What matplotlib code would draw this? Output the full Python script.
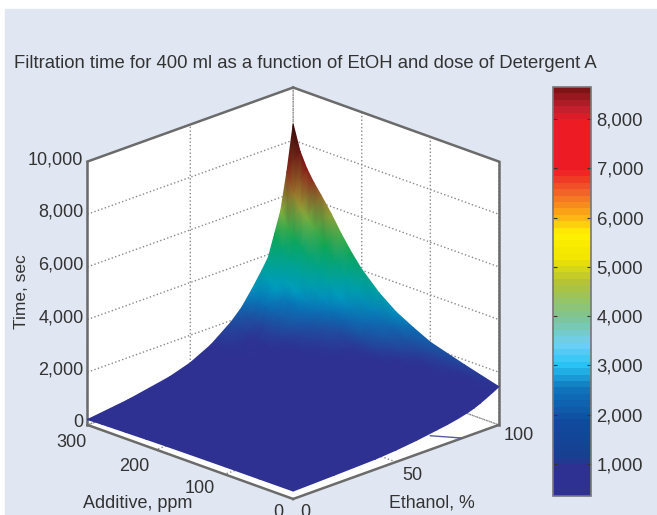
import matplotlib
matplotlib.use("Agg")
import matplotlib.pyplot as plt
import numpy as np
from matplotlib.cm import ScalarMappable
from matplotlib.colors import LinearSegmentedColormap, Normalize
from matplotlib.patches import Rectangle
from mpl_toolkits.mplot3d import proj3d

plt.rcParams['font.family'] = ['Liberation Sans', 'DejaVu Sans']

W, H = 657, 515

ethanol = [0, 20, 40, 50, 60, 70, 75, 80, 85, 88, 91, 94, 97, 100]
additive = [0, 50, 100, 125, 150, 175, 200, 215, 230, 245, 260, 270, 280, 290, 300]
# rows follow additive, columns follow ethanol (seconds)
time_sec = [
    [300, 340, 390, 450, 540, 660, 720, 800, 900, 980, 1080, 1200, 1320, 1450],
    [295, 343, 406, 475, 581, 706, 783, 877, 1002, 1098, 1233, 1396, 1580, 1808],
    [290, 346, 423, 503, 625, 778, 873, 994, 1146, 1260, 1433, 1634, 1888, 2201],
    [285, 349, 437, 525, 662, 837, 948, 1090, 1265, 1393, 1598, 1828, 2140, 2523],
    [280, 352, 452, 550, 702, 902, 1030, 1196, 1396, 1540, 1780, 2044, 2420, 2880],
    [273, 356, 474, 585, 759, 994, 1146, 1345, 1580, 1747, 2036, 2346, 2812, 3381],
    [264, 362, 502, 630, 832, 1112, 1294, 1537, 1817, 2012, 2364, 2735, 3316, 4024],
    [257, 366, 523, 665, 888, 1203, 1410, 1686, 2001, 2219, 2620, 3038, 3708, 4525],
    [249, 371, 548, 705, 953, 1308, 1542, 1856, 2211, 2455, 2912, 3383, 4156, 5097],
    [240, 376, 576, 750, 1026, 1426, 1690, 2048, 2448, 2720, 3240, 3772, 4660, 5740],
    [232, 381, 601, 790, 1091, 1531, 1822, 2218, 2658, 2956, 3532, 4118, 5108, 6312],
    [227, 384, 616, 815, 1131, 1596, 1905, 2325, 2790, 3104, 3715, 4334, 5388, 6670],
    [221, 387, 635, 845, 1180, 1675, 2004, 2453, 2948, 3281, 3934, 4593, 5724, 7099],
    [213, 392, 660, 885, 1245, 1780, 2136, 2623, 3158, 3517, 4226, 4938, 6172, 7671],
    [200, 400, 700, 950, 1350, 1950, 2350, 2900, 3500, 3900, 4700, 5500, 6900, 8600],
]
trace_ethanol = [76, 82]
trace_additive = [28, 1]

z_ticks = [0, 2000, 4000, 6000, 8000, 10000]
ethanol_ticks = [0, 50, 100]
additive_ticks = [0, 100, 200, 300]
bar_ticks = [1000, 2000, 3000, 4000, 5000, 6000, 7000, 8000]
vmin, vmax = 350, 8650

BG = '#e0e7f2'
TXT = '#333333'
FRAME = '#6b6b6b'

# the surface reads darker than its colour bar, so each has its own map
surf_stops = [(350, '#2e3192'), (1500, '#2e3192'), (2000, '#1f4fa0'), (2500, '#0a6fb5'),
              (3000, '#009cc0'), (3800, '#00a38c'), (4700, '#10a650'), (5500, '#8db03c'),
              (6000, '#a08a30'), (6600, '#8b3a20'), (7200, '#8c1a1a'), (8000, '#5a1012'),
              (8650, '#300808')]
bar_stops = [(350, '#2e3192'), (900, '#2e3192'), (1100, '#17408f'), (1800, '#0f4a9e'),
             (2500, '#0f75bc'), (3000, '#29c5f6'), (3400, '#6dcff6'), (4000, '#7fc48f'),
             (4700, '#b5c334'), (5200, '#f2e500'), (5700, '#fff200'), (6000, '#fdb813'),
             (6600, '#f15a29'), (7000, '#ed1c24'), (8000, '#ed1c24'), (8300, '#be1e2d'),
             (8650, '#7f1416')]


def make_cmap(stops):
    return LinearSegmentedColormap.from_list(
        'm', [((v - vmin) / (vmax - vmin), c) for v, c in stops], N=64)


fig = plt.figure(figsize=(W / 100, H / 100), dpi=100, facecolor='white')
fig.add_artist(Rectangle((5 / W, 0), 1, 506 / H, transform=fig.transFigure, color=BG, zorder=-5))

side = 560
rect = [(285.6 - side / 2) / W, (515 - 300.8 - side / 2) / H, side / W, side / H]
ax = fig.add_axes(rect, projection='3d', computed_zorder=False)
ax.patch.set_alpha(0)
ax.set_proj_type('ortho')
ax.view_init(elev=21.1, azim=-135)
ax.set_box_aspect((1, 1, 0.97), zoom=0.865)

ax.set_xlim(0, 100)
ax.set_ylim(0, 300)
ax.set_zlim(0, 10000)
ax.set_xticks(ethanol_ticks)
ax.set_yticks(additive_ticks)
ax.set_zticks(z_ticks)
ax.set_xticklabels([])
ax.set_yticklabels([])
ax.set_zticklabels([])

for axis in (ax.xaxis, ax.yaxis, ax.zaxis):
    axis.set_pane_color('white')
    axis.pane.set_edgecolor('none')
    axis.line.set_color('none')
    axis._axinfo['grid'].update(color='#8a8a8a', linewidth=1.0, linestyle=':')
    axis._axinfo['tick'].update(inward_factor=0, outward_factor=0)

ax.plot(trace_ethanol, trace_additive, [0, 0], color='#5a5aa0', lw=1, zorder=2)

# box edges
top = 10000
for xs, ys, zs in [([0, 100], [300, 300], [top, top]), ([100, 100], [0, 300], [top, top]),
                   ([0, 0], [300, 300], [0, top]), ([100, 100], [0, 0], [0, top]),
                   ([0, 100], [0, 0], [0, 0]), ([0, 0], [0, 300], [0, 0])]:
    ax.plot(xs, ys, zs, color=FRAME, lw=1.8, zorder=1)

# mplot3d only has flat facets, so the smooth surface goes on a 2D axes on top
M = ax.get_proj()


def project(x, y, z):
    x = np.asarray(x, float)
    px, py, _ = proj3d.proj_transform(x.ravel(), np.ravel(y).astype(float), np.ravel(z).astype(float), M)
    return np.reshape(px, x.shape), np.reshape(py, x.shape)


over = fig.add_axes(rect, facecolor='none')
over.axis('off')
E, A = np.meshgrid(ethanol, additive)
Z = np.array(time_sec, dtype=float)
norm = Normalize(vmin, vmax)
px, py = project(E, A, Z)
over.pcolormesh(px, py, Z, shading='gouraud', cmap=make_cmap(surf_stops), norm=norm)
over.set_xlim(ax.viewLim.intervalx)
over.set_ylim(ax.viewLim.intervaly)


def tick_text(x, y, z, s, dx, dy, ha='center'):
    qx, qy = project(x, y, z)
    over.annotate(s, (float(qx), float(qy)), xytext=(dx, dy), textcoords='offset pixels',
                  ha=ha, va='center', fontsize=13, color=TXT, annotation_clip=False)


for v in z_ticks:
    tick_text(0, 300, v, f'{v:,}', -4, 2, ha='right')
for v, (dx, dy) in zip(additive_ticks, [(-15, -14), (-25, -14), (-22, -17), (-16, -18)]):
    tick_text(0, v, 0, str(v), dx, dy)
for v, (dx, dy) in zip(ethanol_ticks, [(12, -14), (16, -14), (20, -11)]):
    tick_text(v, 0, 0, str(v), dx, dy)

fig.text(305 / W, 1 - 63 / H, 'Filtration time for 400 ml as a function of EtOH and dose of Detergent A',
         ha='center', va='center', fontsize=13.3, color=TXT)
fig.text(138 / W, 1 - 503 / H, 'Additive, ppm', ha='center', va='center', fontsize=13, color=TXT)
fig.text(432 / W, 1 - 503 / H, 'Ethanol, %', ha='center', va='center', fontsize=12.8, color=TXT)
fig.text(22 / W, 1 - 292 / H, 'Time, sec', ha='center', va='center', rotation=90, fontsize=12.5, color=TXT)

cax = fig.add_axes([553 / W, 1 - 496 / H, 38 / W, 409 / H])
cb = fig.colorbar(ScalarMappable(norm=norm, cmap=make_cmap(bar_stops)), cax=cax)
cb.set_ticks(bar_ticks)
cb.set_ticklabels([f'{v:,}' for v in bar_ticks])
cb.ax.tick_params(direction='in', left=True, right=True, length=3, color='#333333',
                  labelsize=13.3, labelcolor=TXT, pad=4)
cb.outline.set_edgecolor('#777777')
cb.outline.set_linewidth(1.2)

fig.savefig('out.png', dpi=100, facecolor=fig.get_facecolor())
